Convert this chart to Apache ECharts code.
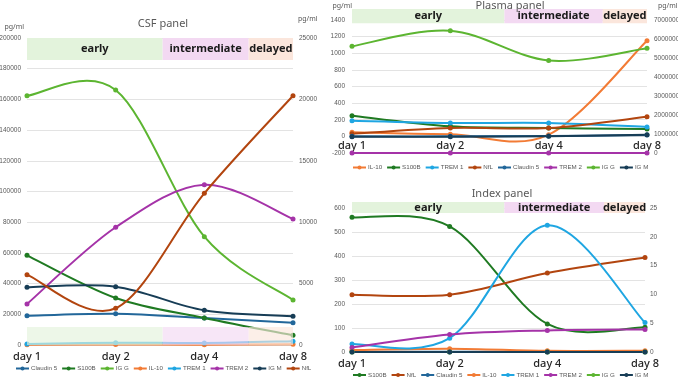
<!DOCTYPE html>
<html>
<head>
<meta charset="utf-8">
<script src="https://cdn.jsdelivr.net/npm/echarts@6/dist/echarts.min.js"></script>
<style>
  html, body { margin: 0; padding: 0; background: #fff; }
  #chart { width: 678px; height: 379px; }
</style>
</head>
<body>
<div id="chart"></div>
<script>
// data
var days = ['day 1', 'day 2', 'day 4', 'day 8'];
var phases = ['early', 'intermediate', 'delayed'];

// CSF panel (left axis 0-200000, right axis 0-25000)
var csfLeftTicks = [0, 200000, 20000];
var csfRightTicks = [0, 25000, 5000];
var csfClaudin5 = [19100, 20400, 17600, 14500];
var csfS100B = [58400, 30600, 17600, 6300];
var csfIgG = [162400, 166100, 70600, 29300];
var csfIL10 = [200, 300, 200, 500];
var csfTrem1 = [700, 1500, 1300, 2500];
var csfTrem2 = [26700, 76700, 104400, 82100];
var csfIgM = [37600, 38000, 22600, 18700];
var csfNfl = [5730, 2990, 12350, 20300];   // right axis
var csfLegend = ['Claudin 5', 'S100B', 'IG G', 'IL-10', 'TREM 1', 'TREM 2', 'IG M', 'NfL'];
var csfPhaseEdges = [-0.02, 1.53, 2.5, 3.02];

// Plasma panel (left axis -200-1400, right axis 0-7000000)
// the axis tops run a little past the last tick so the phase strip fits above
var plasmaLeftTicks = [-200, 1530, 200];
var plasmaRightTicks = [0, 7568750, 1000000];
var plasmaIL10 = [50, 24, 20, 1148];
var plasmaS100B = [248, 120, 100, 88];
var plasmaTrem1 = [188, 160, 160, 113];
var plasmaNfl = [30, 100, 100, 236];
var plasmaClaudin5 = [0, 0, 5, 15];
var plasmaTrem2 = [0, 0, 0, 0];                         // right axis
var plasmaIgG = [5610000, 6430000, 4860000, 5500000];   // right axis
var plasmaIgM = [-5, -5, 0, 20];
var plasmaLegend = ['IL-10', 'S100B', 'TREM 1', 'NfL', 'Claudin 5', 'TREM 2', 'IG G', 'IG M'];
var plasmaPhaseEdges = [-0.03, 1.55, 2.55, 3.03];

// Index panel (left axis 0-600, right axis 0-25)
var indexLeftTicks = [0, 625, 100];
var indexRightTicks = [0, 26.0417, 5];
var indexS100B = [561, 523, 117, 103];
var indexNfl = [239, 239, 329, 394];
var indexClaudin5 = [1, 1, 1, 1];
var indexIL10 = [8, 14, 5, 5];
var indexTrem1 = [1.4, 2.4, 22.0, 5.1];   // right axis
var indexTrem2 = [19, 73, 90, 94];
var indexIgG = [0.5, 0.5, 0.5, 0.5];
var indexIgM = [0, 0, 0, 0];
var indexLegend = ['S100B', 'NfL', 'Claudin 5', 'IL-10', 'TREM 1', 'TREM 2', 'IG G', 'IG M'];
var indexPhaseEdges = [-0.02, 1.56, 2.58, 3.02];

var colors = {
    'Claudin 5': '#22679a',
    'S100B': '#1f7a22',
    'IG G': '#5cb531',
    'IL-10': '#f27b35',
    'TREM 1': '#1fa6e2',
    'TREM 2': '#a533a8',
    'IG M': '#173d56',
    'NfL': '#b2450f'
};
var phaseColors = ['#e3f3dc', '#f3d9f2', '#fbe6dc'];
var txtGrey = '#595959';

(function() {
    var myChart = echarts.init(document.getElementById('chart'));

    // markers only; the curve itself is drawn by the custom series below
    function marks(name, data, xi, yi) {
        return {
            type: 'line', name: name, data: data,
            xAxisIndex: xi, yAxisIndex: yi,
            symbol: 'circle', symbolSize: 5,
            lineStyle: { width: 2, color: colors[name], opacity: 0 },
            itemStyle: { color: colors[name] },
            z: 4
        };
    }
    // Excel-like smoothed line (catmull-rom -> bezier) through the points, via api.coord
    function curve(name, data, xi, yi) {
        return {
            type: 'custom', name: name, xAxisIndex: xi, yAxisIndex: yi,
            data: data.map(function(v, i) { return [i, v]; }),
            encode: { x: 0, y: 1 }, silent: true, z: 3,
            renderItem: function(params, api) {
                if (params.dataIndexInside !== 0) return;
                var n = params.dataInsideLength;
                var p = [];
                for (var i = 0; i < n; i++) p.push(api.coord([api.value(0, i), api.value(1, i)]));
                var segs = [];
                for (var j = 0; j < n - 1; j++) {
                    var a = p[Math.max(j - 1, 0)], b = p[j], c = p[j + 1], d = p[Math.min(j + 2, n - 1)];
                    segs.push({
                        type: 'bezierCurve',
                        shape: {
                            x1: b[0], y1: b[1], x2: c[0], y2: c[1],
                            cpx1: b[0] + (c[0] - a[0]) / 6, cpy1: b[1] + (c[1] - a[1]) / 6,
                            cpx2: c[0] - (d[0] - b[0]) / 6, cpy2: c[1] - (d[1] - b[1]) / 6
                        },
                        style: { fill: null, stroke: colors[name], lineWidth: 2 }
                    });
                }
                return { type: 'group', children: segs };
            }
        };
    }
    function line(name, data, xi, yi) {
        return [marks(name, data, xi, yi), curve(name, data, xi, yi)];
    }

    // phase bands as a markArea on an invisible series sitting on a hidden value x axis
    function bands(xi, yi, edges, yLow, yHigh, withLabel, opacity, z) {
        var areas = phases.map(function(p, i) {
            return [
                { name: withLabel ? p : '', coord: [edges[i], yHigh], itemStyle: { color: phaseColors[i], opacity: opacity } },
                { coord: [edges[i + 1], yLow] }
            ];
        });
        return {
            type: 'line', name: 'bands', xAxisIndex: xi, yAxisIndex: yi,
            data: [[0, yLow], [3, yLow]],
            symbol: 'none', lineStyle: { opacity: 0 }, silent: true,
            clip: false, z: z,
            markArea: {
                silent: true, z: z,
                label: { show: withLabel, position: 'inside', fontWeight: 'bold', fontSize: 11, color: '#1a1a1a', fontFamily: 'Noto Sans' },
                data: areas
            }
        };
    }

    function catAxis(grid, margin, offset) {
        return {
            type: 'category', gridIndex: grid, data: days, boundaryGap: false,
            offset: offset,
            axisTick: { show: false },
            axisLine: { show: true, onZero: false, lineStyle: { color: '#d9d9d9' } },
            axisLabel: { color: '#262626', fontSize: 11, fontWeight: 500, margin: margin, fontFamily: 'Noto Sans' }
        };
    }
    function valXAxis(grid) {
        return { type: 'value', gridIndex: grid, min: 0, max: 3, show: false };
    }
    function yAx(grid, ticks, pos, name, nameGap, nameAlign, namePad, margin) {
        return {
            type: 'value', gridIndex: grid, position: pos,
            min: ticks[0], max: ticks[1], interval: ticks[2],
            name: name, nameGap: nameGap,
            nameTextStyle: { color: txtGrey, fontSize: 7, align: nameAlign, padding: namePad },
            axisLine: { show: false }, axisTick: { show: false },
            axisLabel: {
                color: txtGrey, fontSize: 6.5, margin: margin, fontFamily: 'Liberation Sans',
                formatter: function(v) { return v % ticks[2] === 0 ? String(v) : ''; }
            },
            splitLine: { show: pos === 'left', lineStyle: { color: '#e3e3e3' } }
        };
    }
    function legend(names, left, top) {
        return {
            data: names, left: left, top: top, width: 330, padding: 0,
            itemWidth: 13, itemHeight: 5, itemGap: 4,
            lineStyle: { opacity: 1, width: 2 },
            textStyle: { color: txtGrey, fontSize: 6.2, fontFamily: 'Liberation Sans', padding: [0, 0, 0, -3] }
        };
    }

    var series = [].concat(
        bands(1, 0, csfPhaseEdges, 185700, 200000, true, 1, 1),
        line('Claudin 5', csfClaudin5, 0, 0),
        line('S100B', csfS100B, 0, 0),
        line('IG G', csfIgG, 0, 0),
        line('IL-10', csfIL10, 0, 0),
        line('TREM 1', csfTrem1, 0, 0),
        line('TREM 2', csfTrem2, 0, 0),
        line('IG M', csfIgM, 0, 0),
        line('NfL', csfNfl, 0, 1),
        bands(1, 0, csfPhaseEdges, 0, 11700, false, 0.65, 10),   // translucent strip laid over the lines

        bands(3, 2, plasmaPhaseEdges, 1358, 1530, true, 1, 1),
        line('IL-10', plasmaIL10, 2, 2),
        line('S100B', plasmaS100B, 2, 2),
        line('TREM 1', plasmaTrem1, 2, 2),
        line('NfL', plasmaNfl, 2, 2),
        line('Claudin 5', plasmaClaudin5, 2, 2),
        line('TREM 2', plasmaTrem2, 2, 3),
        line('IG G', plasmaIgG, 2, 3),
        line('IG M', plasmaIgM, 2, 2),

        bands(5, 4, indexPhaseEdges, 579, 625, true, 1, 1),
        line('S100B', indexS100B, 4, 4),
        line('NfL', indexNfl, 4, 4),
        line('Claudin 5', indexClaudin5, 4, 4),
        line('IL-10', indexIL10, 4, 4),
        line('TREM 1', indexTrem1, 4, 5),
        line('TREM 2', indexTrem2, 4, 4),
        line('IG G', indexIgG, 4, 4),
        line('IG M', indexIgM, 4, 4)
    );

    var option = {
        animation: false,
        textStyle: { fontFamily: 'Noto Sans' },
        title: [
            { text: 'CSF panel', left: 158, top: 13, textAlign: 'center', textStyle: { fontSize: 11, fontWeight: 'normal', color: txtGrey } },
            { text: 'Plasma panel', left: 505, top: -5, textAlign: 'center', textStyle: { fontSize: 11, fontWeight: 'normal', color: txtGrey } },
            { text: 'Index panel', left: 497, top: 183, textAlign: 'center', textStyle: { fontSize: 11, fontWeight: 'normal', color: txtGrey } }
        ],
        legend: [
            legend(csfLegend, 15, 365.5),
            legend(plasmaLegend, 352, 164.5),
            legend(indexLegend, 352, 372)
        ],
        grid: [
            { left: 27, right: 385, top: 38, bottom: 34, outerBoundsMode: 'none' },
            { left: 352, right: 31, top: 9, bottom: 226, outerBoundsMode: 'none' },
            { left: 352, right: 33, top: 202, bottom: 27, outerBoundsMode: 'none' }
        ],
        xAxis: [
            catAxis(0, 6, 0), valXAxis(0),
            catAxis(1, 4, -17), valXAxis(1),   // plasma day labels sit on the zero line
            catAxis(2, 6, 0), valXAxis(2)
        ],
        yAxis: [
            yAx(0, csfLeftTicks, 'left', 'pg/ml', 8, 'right', [0, 3, 0, 0], 6),
            yAx(0, csfRightTicks, 'right', 'pg/ml', 16, 'left', [0, 0, 0, 5], 6),
            yAx(1, plasmaLeftTicks, 'left', 'pg/ml', 0, 'right', [0, 0, 0, 0], 7),
            yAx(1, plasmaRightTicks, 'right', 'pg/ml', 0, 'left', [0, 0, 0, 11], 7),
            yAx(2, indexLeftTicks, 'left', '', 10, 'right', 0, 7),
            yAx(2, indexRightTicks, 'right', '', 10, 'left', 0, 5)
        ],
        series: series
    };
    myChart.setOption(option);
    window.addEventListener('resize', function() {
        myChart.resize();
    });
})();
</script>
</body>
</html>
